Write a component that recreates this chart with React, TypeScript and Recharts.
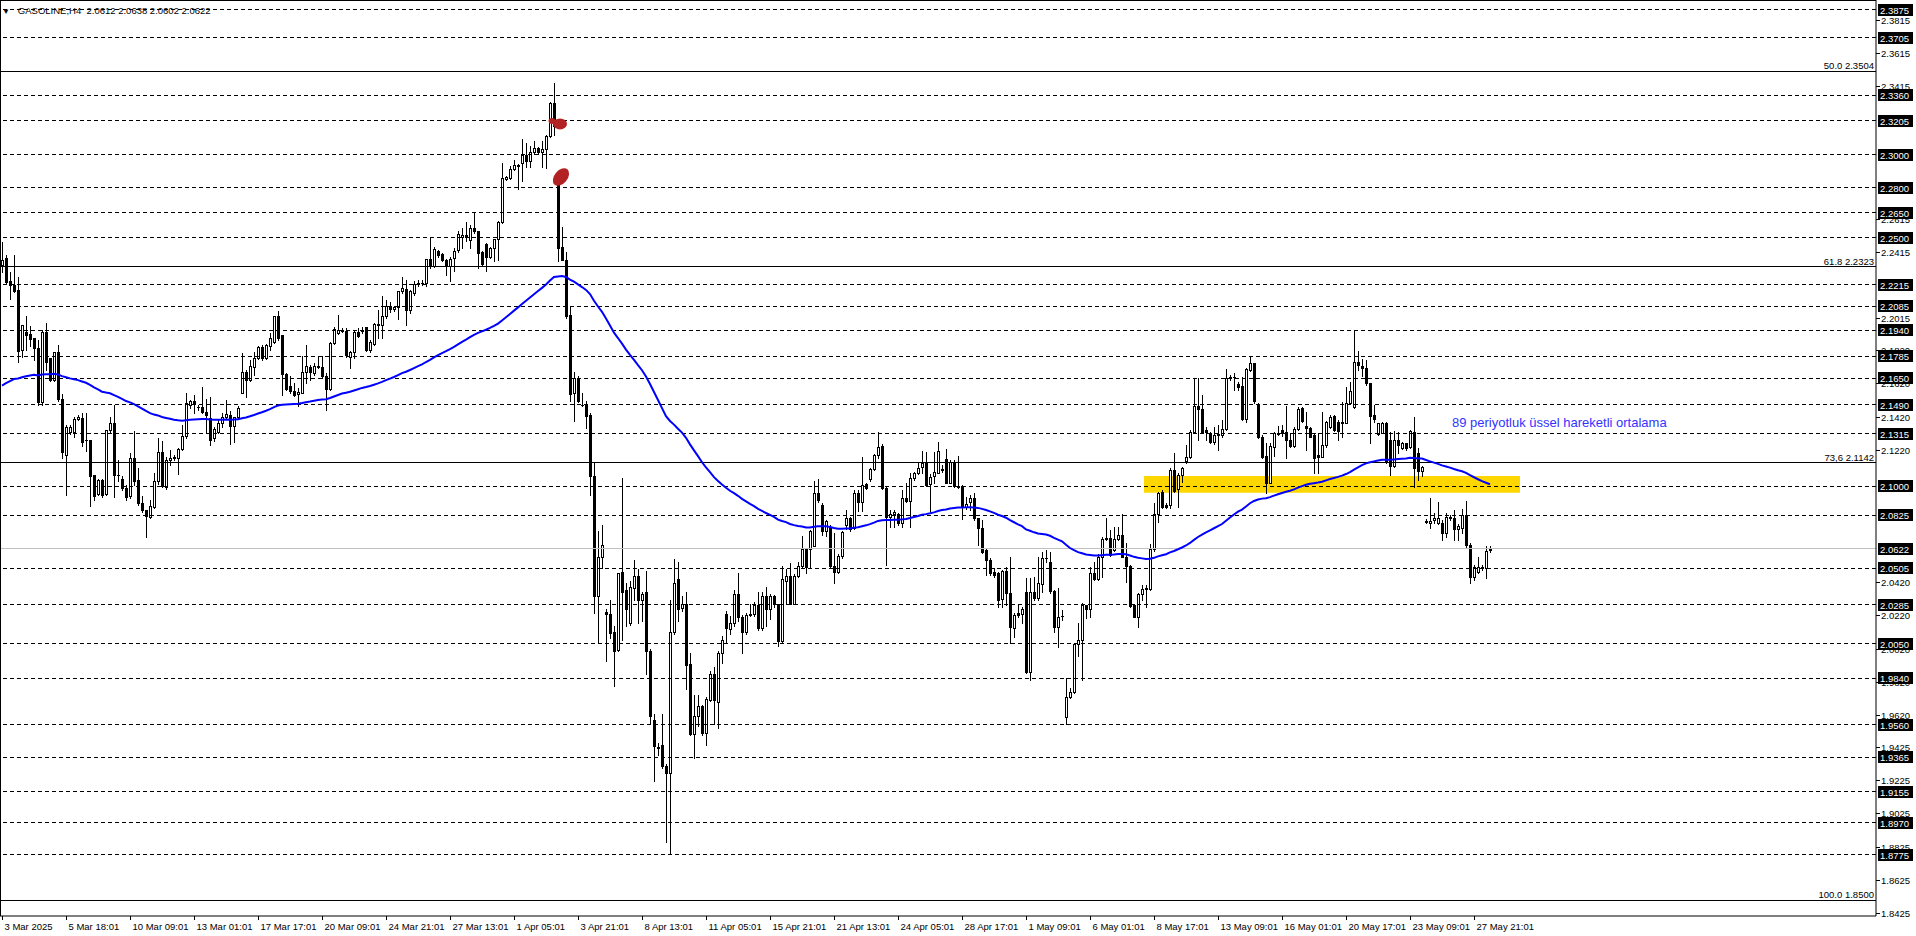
import React from 'react';
import { ComposedChart, Bar, Line, XAxis, YAxis, ReferenceLine, ReferenceArea, ReferenceDot } from 'recharts';

const FONT = "Tahoma, 'Liberation Sans', Arial, sans-serif";

// GASOLINE H4 bars, 3 Mar 2025 -> 28 May 2025
const opens = [
  2.2335, 2.2375, 2.2239, 2.2214, 2.2184, 2.1822, 2.1933, 2.1917, 2.1893, 2.1833,
  2.1507, 2.1929, 2.1772, 2.1642, 2.1808, 2.1527, 2.1189, 2.1326, 2.1326, 2.1406,
  2.1410, 2.1280, 2.1280, 2.1067, 2.0952, 2.1039, 2.0952, 2.1340, 2.1380, 2.1069,
  2.1043, 2.0988, 2.0942, 2.1169, 2.1039, 2.0898, 2.0854, 2.0814, 2.0874, 2.1029,
  2.1206, 2.0998, 2.1159, 2.1169, 2.1169, 2.1224, 2.1304, 2.1491, 2.1511, 2.1475,
  2.1475, 2.1445, 2.1410, 2.1290, 2.1326, 2.1380, 2.1420, 2.1430, 2.1366, 2.1416,
  2.1565, 2.1692, 2.1642, 2.1718, 2.1772, 2.1839, 2.1772, 2.1843, 2.1873, 2.2027,
  2.1913, 2.1678, 2.1605, 2.1577, 2.1555, 2.1565, 2.1686, 2.1722, 2.1682, 2.1726,
  2.1718, 2.1666, 2.1585, 2.1863, 2.1923, 2.1943, 2.1937, 2.1782, 2.1812, 2.1933,
  2.1943, 2.1959, 2.1822, 2.1859, 2.1977, 2.1970, 2.2028, 2.2085, 2.2069, 2.2081,
  2.2179, 2.2189, 2.2064, 2.2165, 2.2219, 2.2225, 2.2225, 2.2370, 2.2326, 2.2420,
  2.2400, 2.2366, 2.2326, 2.2376, 2.2426, 2.2503, 2.2513, 2.2487, 2.2561, 2.2537,
  2.2416, 2.2462, 2.2382, 2.2440, 2.2491, 2.2593, 2.2854, 2.2858, 2.2913, 2.2939,
  2.2953, 2.2999, 2.2965, 2.3015, 2.3039, 2.3019, 2.3033, 2.3114, 2.3311, 2.2858,
  2.2442, 2.2366, 2.2034, 2.1562, 2.1652, 2.1492, 2.1490, 2.1427, 2.1059, 2.0337,
  2.0570, 2.0240, 2.0228, 2.0121, 2.0012, 2.0484, 2.0374, 2.0172, 2.0387, 2.0458,
  2.0311, 2.0362, 2.0007, 1.9589, 1.9424, 1.9437, 1.9310, 1.9267, 2.0121, 2.0438,
  2.0266, 2.0286, 1.9926, 1.9505, 1.9614, 1.9672, 1.9513, 1.9708, 1.9868, 1.9698,
  1.9994, 2.0230, 2.0139, 2.0172, 2.0349, 2.0210, 2.0121, 2.0223, 2.0230, 2.0281,
  2.0147, 2.0337, 2.0256, 2.0337, 2.0286, 2.0063, 2.0425, 2.0458, 2.0291, 2.0458,
  2.0519, 2.0621, 2.0621, 2.0641, 2.0958, 2.0889, 2.0730, 2.0755, 2.0519, 2.0484,
  2.0577, 2.0768, 2.0806, 2.0747, 2.0958, 2.0907, 2.1016, 2.1042, 2.1102, 2.1186,
  2.1244, 2.0991, 2.0813, 2.0831, 2.0830, 2.0776, 2.0927, 2.0913, 2.1048, 2.1078,
  2.1114, 2.1142, 2.1013, 2.1064, 2.1082, 2.1102, 2.1162, 2.1021, 2.1148, 2.1001,
  2.1001, 2.0873, 2.0907, 2.0927, 2.0806, 2.0746, 2.0615, 2.0555, 2.0484, 2.0474,
  2.0317, 2.0488, 2.0354, 2.0142, 2.0233, 2.0229, 2.0364, 1.9881, 2.0364, 2.0323,
  2.0410, 2.0565, 2.0545, 2.0370, 2.0148, 2.0217, 1.9605, 1.9730, 1.9760, 2.0048,
  2.0072, 2.0283, 2.0257, 2.0478, 2.0438, 2.0575, 2.0679, 2.0686, 2.0615, 2.0679,
  2.0706, 2.0575, 2.0519, 2.0283, 2.0213, 2.0350, 2.0378, 2.0378, 2.0619, 2.0830,
  2.0963, 2.0887, 2.0887, 2.1098, 2.0981, 2.1068, 2.1154, 2.1174, 2.1329, 2.1484,
  2.1464, 2.1339, 2.1323, 2.1269, 2.1309, 2.1309, 2.1343, 2.1651, 2.1657, 2.1617,
  2.1605, 2.1404, 2.1702, 2.1742, 2.1497, 2.1299, 2.1183, 2.1022, 2.1239, 2.1323,
  2.1339, 2.1329, 2.1279, 2.1243, 2.1343, 2.1470, 2.1364, 2.1354, 2.1309, 2.1188,
  2.1178, 2.1249, 2.1356, 2.1424, 2.1390, 2.1390, 2.1384, 2.1504, 2.1476, 2.1752,
  2.1726, 2.1712, 2.1621, 2.1430, 2.1315, 2.1323, 2.1384, 2.1279, 2.1122, 2.1279,
  2.1229, 2.1259, 2.1235, 2.1329, 2.1199, 2.1094, 2.0790, 2.0776, 2.0796, 2.0780,
  2.0780, 2.0720, 2.0816, 2.0806, 2.0740, 2.0746, 2.0827, 2.0645, 2.0454, 2.0485,
  2.0505, 2.0505, 2.0612,
];

const highs = [
  2.2476, 2.2395, 2.2295, 2.2395, 2.2261, 2.1973, 2.2027, 2.1967, 2.1893, 2.1883,
  2.1943, 2.1983, 2.1772, 2.1808, 2.1849, 2.1557, 2.1370, 2.1370, 2.1420, 2.1430,
  2.1441, 2.1441, 2.1280, 2.1067, 2.1045, 2.1043, 2.1340, 2.1420, 2.1491, 2.1159,
  2.1063, 2.1009, 2.1199, 2.1330, 2.1109, 2.0938, 2.0858, 2.0918, 2.1079, 2.1290,
  2.1270, 2.1179, 2.1220, 2.1189, 2.1230, 2.1370, 2.1565, 2.1521, 2.1551, 2.1491,
  2.1601, 2.1525, 2.1541, 2.1360, 2.1400, 2.1441, 2.1521, 2.1451, 2.1420, 2.1481,
  2.1802, 2.1702, 2.1762, 2.1812, 2.1843, 2.1849, 2.1859, 2.1923, 2.2027, 2.2058,
  2.1913, 2.1682, 2.1662, 2.1625, 2.1591, 2.1786, 2.1853, 2.1732, 2.1742, 2.1782,
  2.1786, 2.1682, 2.1873, 2.1963, 2.2034, 2.1953, 2.1953, 2.1816, 2.1943, 2.1953,
  2.1963, 2.1963, 2.1883, 2.1983, 2.2064, 2.2145, 2.2125, 2.2109, 2.2090, 2.2179,
  2.2262, 2.2245, 2.2185, 2.2239, 2.2245, 2.2245, 2.2370, 2.2501, 2.2442, 2.2426,
  2.2406, 2.2370, 2.2386, 2.2436, 2.2537, 2.2557, 2.2597, 2.2577, 2.2653, 2.2537,
  2.2422, 2.2467, 2.2446, 2.2491, 2.2603, 2.2953, 2.2872, 2.2933, 2.2969, 2.2945,
  2.3094, 2.3069, 2.3053, 2.3084, 2.3049, 2.3086, 2.3120, 2.3321, 2.3431, 2.2878,
  2.2567, 2.2416, 2.2081, 2.1686, 2.1662, 2.1560, 2.1516, 2.1440, 2.1148, 2.0730,
  2.0763, 2.0260, 2.0311, 2.0159, 2.0476, 2.1052, 2.0413, 2.0425, 2.0552, 2.0501,
  2.0362, 2.0489, 2.0020, 1.9627, 1.9449, 1.9627, 1.9323, 2.0311, 2.0560, 2.0545,
  2.0337, 2.0362, 1.9994, 1.9741, 1.9741, 1.9682, 1.9728, 1.9885, 1.9906, 2.0007,
  2.0096, 2.0248, 2.0215, 2.0375, 2.0476, 2.0223, 2.0235, 2.0286, 2.0299, 2.0362,
  2.0362, 2.0392, 2.0349, 2.0342, 2.0291, 2.0519, 2.0501, 2.0534, 2.0468, 2.0545,
  2.0697, 2.0628, 2.0737, 2.1034, 2.1042, 2.0900, 2.0798, 2.0768, 2.0717, 2.0590,
  2.0730, 2.0856, 2.0813, 2.0976, 2.0976, 2.1178, 2.1021, 2.1110, 2.1193, 2.1325,
  2.1254, 2.0996, 2.0856, 2.0856, 2.0840, 2.0977, 2.1017, 2.1078, 2.1088, 2.1138,
  2.1215, 2.1208, 2.1074, 2.1208, 2.1269, 2.1128, 2.1223, 2.1158, 2.1158, 2.1182,
  2.1007, 2.0937, 2.0947, 2.0957, 2.0806, 2.0796, 2.0619, 2.0565, 2.0504, 2.0484,
  2.0494, 2.0510, 2.0571, 2.0233, 2.0289, 2.0273, 2.0444, 2.0444, 2.0454, 2.0575,
  2.0605, 2.0615, 2.0605, 2.0374, 2.0384, 2.0253, 1.9841, 1.9780, 2.0052, 2.0173,
  2.0297, 2.0283, 2.0511, 2.0545, 2.0591, 2.0695, 2.0806, 2.0736, 2.0756, 2.0756,
  2.0832, 2.0655, 2.0525, 2.0289, 2.0354, 2.0404, 2.0404, 2.0651, 2.0897, 2.0967,
  2.0977, 2.0901, 2.1108, 2.1203, 2.1078, 2.1118, 2.1249, 2.1339, 2.1650, 2.1651,
  2.1551, 2.1360, 2.1329, 2.1360, 2.1370, 2.1400, 2.1706, 2.1671, 2.1681, 2.1631,
  2.1657, 2.1712, 2.1786, 2.1746, 2.1504, 2.1309, 2.1259, 2.1263, 2.1329, 2.1364,
  2.1370, 2.1484, 2.1319, 2.1360, 2.1480, 2.1476, 2.1450, 2.1360, 2.1319, 2.1319,
  2.1450, 2.1396, 2.1430, 2.1430, 2.1400, 2.1510, 2.1597, 2.1631, 2.1939, 2.1818,
  2.1766, 2.1762, 2.1625, 2.1490, 2.1384, 2.1390, 2.1390, 2.1329, 2.1335, 2.1329,
  2.1269, 2.1263, 2.1339, 2.1416, 2.1229, 2.1122, 2.0800, 2.0927, 2.0837, 2.0907,
  2.0796, 2.0840, 2.0826, 2.0857, 2.0772, 2.0861, 2.0913, 2.0659, 2.0525, 2.0575,
  2.0525, 2.0639, 2.0638,
];

const lows = [
  2.2295, 2.2225, 2.2128, 2.2174, 2.1752, 2.1782, 2.1822, 2.1843, 2.1762, 2.1491,
  2.1491, 2.1702, 2.1632, 2.1632, 2.1511, 2.1169, 2.0948, 2.1316, 2.1296, 2.1400,
  2.1240, 2.1210, 2.0878, 2.0918, 2.0945, 2.0932, 2.0948, 2.1320, 2.0932, 2.1029,
  2.0978, 2.0918, 2.0928, 2.1009, 2.0888, 2.0844, 2.0693, 2.0807, 2.0868, 2.1015,
  2.0998, 2.0982, 2.1129, 2.1159, 2.1073, 2.1220, 2.1290, 2.1471, 2.1441, 2.1461,
  2.1441, 2.1320, 2.1246, 2.1270, 2.1320, 2.1360, 2.1410, 2.1256, 2.1264, 2.1410,
  2.1561, 2.1541, 2.1632, 2.1672, 2.1766, 2.1762, 2.1766, 2.1822, 2.1863, 2.1883,
  2.1551, 2.1581, 2.1561, 2.1547, 2.1481, 2.1561, 2.1625, 2.1642, 2.1672, 2.1712,
  2.1652, 2.1457, 2.1581, 2.1859, 2.1919, 2.1929, 2.1782, 2.1712, 2.1772, 2.1903,
  2.1923, 2.1818, 2.1812, 2.1853, 2.1894, 2.1894, 2.2014, 2.2054, 2.2060, 2.2008,
  2.2165, 2.1974, 2.2044, 2.2155, 2.2205, 2.2215, 2.2211, 2.2316, 2.2322, 2.2386,
  2.2356, 2.2276, 2.2241, 2.2296, 2.2416, 2.2436, 2.2477, 2.2436, 2.2527, 2.2316,
  2.2336, 2.2296, 2.2376, 2.2356, 2.2362, 2.2587, 2.2848, 2.2852, 2.2909, 2.2792,
  2.2844, 2.2929, 2.2929, 2.3005, 2.3009, 2.2929, 2.2919, 2.3106, 2.3120, 2.2356,
  2.2362, 2.2014, 2.1512, 2.1391, 2.1506, 2.1482, 2.1351, 2.0945, 2.0235, 2.0058,
  2.0509, 1.9944, 2.0083, 1.9792, 2.0007, 2.0070, 2.0159, 2.0164, 2.0311, 2.0172,
  2.0184, 1.9868, 1.9563, 1.9221, 1.9380, 1.9297, 1.8853, 1.8785, 2.0108, 2.0185,
  2.0248, 1.9774, 1.9500, 1.9361, 1.9551, 1.9500, 1.9437, 1.9703, 1.9563, 1.9538,
  1.9931, 2.0058, 2.0108, 2.0159, 2.0185, 1.9994, 2.0108, 2.0215, 2.0215, 2.0134,
  2.0134, 2.0159, 2.0197, 2.0273, 2.0033, 2.0058, 2.0291, 2.0286, 2.0286, 2.0451,
  2.0509, 2.0476, 2.0509, 2.0636, 2.0907, 2.0704, 2.0697, 2.0509, 2.0413, 2.0476,
  2.0565, 2.0742, 2.0730, 2.0742, 2.0849, 2.0849, 2.0984, 2.1034, 2.1097, 2.1173,
  2.0984, 2.0527, 2.0755, 2.0755, 2.0766, 2.0756, 2.0907, 2.0756, 2.1038, 2.1074,
  2.1078, 2.1001, 2.0852, 2.1017, 2.1078, 2.1088, 2.1017, 2.1017, 2.0997, 2.0987,
  2.0800, 2.0861, 2.0857, 2.0796, 2.0645, 2.0599, 2.0464, 2.0464, 2.0454, 2.0273,
  2.0273, 2.0283, 2.0052, 2.0092, 2.0209, 2.0177, 1.9871, 1.9831, 2.0313, 2.0313,
  2.0364, 2.0545, 2.0354, 2.0122, 2.0032, 2.0193, 1.9565, 1.9720, 1.9754, 1.9975,
  1.9831, 2.0203, 2.0209, 2.0434, 2.0434, 2.0454, 2.0675, 2.0579, 2.0611, 2.0675,
  2.0571, 2.0424, 2.0273, 2.0209, 2.0152, 2.0313, 2.0269, 2.0374, 2.0611, 2.0786,
  2.0867, 2.0867, 2.0867, 2.0967, 2.0877, 2.1027, 2.1138, 2.1168, 2.1320, 2.1279,
  2.1319, 2.1279, 2.1259, 2.1255, 2.1219, 2.1299, 2.1339, 2.1641, 2.1581, 2.1581,
  2.1400, 2.1390, 2.1698, 2.1504, 2.1289, 2.1168, 2.0957, 2.1018, 2.1183, 2.1309,
  2.1303, 2.1168, 2.1239, 2.1239, 2.1339, 2.1390, 2.1219, 2.1295, 2.1078, 2.1078,
  2.1174, 2.1239, 2.1350, 2.1335, 2.1279, 2.1299, 2.1380, 2.1497, 2.1470, 2.1702,
  2.1665, 2.1611, 2.1263, 2.1390, 2.1309, 2.1319, 2.1138, 2.1068, 2.1118, 2.1198,
  2.1223, 2.1219, 2.1229, 2.0997, 2.1038, 2.1062, 2.0780, 2.0746, 2.0776, 2.0772,
  2.0676, 2.0692, 2.0796, 2.0676, 2.0676, 2.0720, 2.0635, 2.0418, 2.0434, 2.0475,
  2.0495, 2.0444, 2.0602,
];

const closes = [
  2.2365, 2.2235, 2.2214, 2.2180, 2.1818, 2.1973, 2.1913, 2.1887, 2.1833, 2.1507,
  2.1929, 2.1752, 2.1642, 2.1808, 2.1527, 2.1209, 2.1356, 2.1356, 2.1406, 2.1416,
  2.1264, 2.1280, 2.1063, 2.0942, 2.1039, 2.0948, 2.1340, 2.1380, 2.1069, 2.1069,
  2.0988, 2.0932, 2.1169, 2.1029, 2.0898, 2.0854, 2.0822, 2.0878, 2.1029, 2.1206,
  2.1004, 2.1159, 2.1169, 2.1179, 2.1226, 2.1304, 2.1501, 2.1511, 2.1501, 2.1479,
  2.1445, 2.1431, 2.1280, 2.1344, 2.1380, 2.1416, 2.1434, 2.1366, 2.1416, 2.1471,
  2.1692, 2.1642, 2.1728, 2.1772, 2.1839, 2.1772, 2.1853, 2.1893, 2.2027, 2.1893,
  2.1678, 2.1585, 2.1577, 2.1551, 2.1571, 2.1686, 2.1726, 2.1686, 2.1726, 2.1718,
  2.1662, 2.1587, 2.1867, 2.1947, 2.1943, 2.1939, 2.1792, 2.1812, 2.1933, 2.1907,
  2.1937, 2.1822, 2.1873, 2.1979, 2.1970, 2.2028, 2.2085, 2.2069, 2.2081, 2.2179,
  2.2193, 2.2064, 2.2175, 2.2219, 2.2225, 2.2225, 2.2370, 2.2326, 2.2430, 2.2396,
  2.2366, 2.2326, 2.2372, 2.2422, 2.2521, 2.2513, 2.2501, 2.2561, 2.2541, 2.2410,
  2.2340, 2.2386, 2.2436, 2.2491, 2.2593, 2.2858, 2.2868, 2.2913, 2.2939, 2.2935,
  2.2999, 2.2965, 2.3019, 2.3039, 2.3019, 2.3033, 2.3114, 2.3311, 2.3174, 2.2436,
  2.2366, 2.2024, 2.1558, 2.1652, 2.1512, 2.1490, 2.1422, 2.1059, 2.0337, 2.0570,
  2.0646, 2.0230, 2.0114, 2.0007, 2.0476, 2.0362, 2.0256, 2.0392, 2.0458, 2.0311,
  2.0349, 2.0007, 1.9614, 1.9429, 1.9418, 1.9310, 1.9267, 2.0121, 2.0413, 2.0261,
  2.0286, 1.9918, 1.9505, 1.9614, 1.9672, 1.9513, 1.9715, 1.9868, 1.9708, 1.9994,
  2.0070, 2.0147, 2.0172, 2.0349, 2.0210, 2.0121, 2.0223, 2.0228, 2.0281, 2.0147,
  2.0337, 2.0256, 2.0337, 2.0286, 2.0063, 2.0438, 2.0458, 2.0291, 2.0458, 2.0519,
  2.0621, 2.0514, 2.0730, 2.0958, 2.0915, 2.0730, 2.0788, 2.0519, 2.0484, 2.0577,
  2.0722, 2.0806, 2.0742, 2.0958, 2.0907, 2.1009, 2.0991, 2.1102, 2.1186, 2.1237,
  2.0991, 2.0813, 2.0831, 2.0844, 2.0776, 2.0927, 2.0913, 2.1048, 2.1078, 2.1108,
  2.1142, 2.1007, 2.1058, 2.1088, 2.1213, 2.1096, 2.1021, 2.1148, 2.1001, 2.0997,
  2.0873, 2.0891, 2.0927, 2.0806, 2.0746, 2.0605, 2.0555, 2.0474, 2.0464, 2.0313,
  2.0488, 2.0354, 2.0148, 2.0223, 2.0223, 2.0257, 1.9881, 2.0364, 2.0323, 2.0414,
  2.0565, 2.0565, 2.0370, 2.0148, 2.0209, 2.0217, 1.9726, 1.9760, 2.0048, 2.0072,
  2.0283, 2.0257, 2.0478, 2.0438, 2.0575, 2.0679, 2.0686, 2.0585, 2.0679, 2.0706,
  2.0575, 2.0519, 2.0277, 2.0213, 2.0350, 2.0378, 2.0384, 2.0619, 2.0830, 2.0957,
  2.0877, 2.0873, 2.1098, 2.0973, 2.1068, 2.1108, 2.1174, 2.1329, 2.1484, 2.1464,
  2.1323, 2.1329, 2.1269, 2.1309, 2.1315, 2.1343, 2.1651, 2.1657, 2.1661, 2.1601,
  2.1404, 2.1706, 2.1746, 2.1511, 2.1295, 2.1174, 2.1018, 2.1243, 2.1323, 2.1315,
  2.1323, 2.1279, 2.1243, 2.1343, 2.1464, 2.1396, 2.1350, 2.1299, 2.1168, 2.1178,
  2.1249, 2.1390, 2.1420, 2.1339, 2.1335, 2.1384, 2.1504, 2.1577, 2.1752, 2.1732,
  2.1712, 2.1621, 2.1424, 2.1404, 2.1380, 2.1384, 2.1148, 2.1122, 2.1279, 2.1249,
  2.1259, 2.1229, 2.1335, 2.1108, 2.1094, 2.1114, 2.0786, 2.0792, 2.0806, 2.0806,
  2.0720, 2.0816, 2.0806, 2.0740, 2.0760, 2.0827, 2.0645, 2.0454, 2.0515, 2.0515,
  2.0515, 2.0611, 2.0622,
];

// 89-period EMA of the closes; value before the first visible bar
const emaPeriod = 89;
const emaSeed = 2.1590;

const timeLabels = [
  '3 Mar 2025', '5 Mar 18:01', '10 Mar 09:01', '13 Mar 01:01', '17 Mar 17:01', '20 Mar 09:01',
  '24 Mar 21:01', '27 Mar 13:01', '1 Apr 05:01', '3 Apr 21:01', '8 Apr 13:01', '11 Apr 05:01',
  '15 Apr 21:01', '21 Apr 13:01', '24 Apr 05:01', '28 Apr 17:01', '1 May 09:01', '6 May 01:01',
  '8 May 17:01', '13 May 09:01', '16 May 01:01', '20 May 17:01', '23 May 09:01', '27 May 21:01',
];
const timeLabelBars = [
  0, 16, 32, 48, 64, 80, 96, 112, 128, 144, 160, 176,
  192, 208, 224, 240, 256, 272, 288, 304, 320, 336, 352, 368,
];

// empty bar slots on the right side of the window
const windowBars = 469;

// horizontal levels drawn on the chart
const levelLines = [
  2.3875, 2.3705, 2.3360, 2.3205, 2.3000, 2.2800, 2.2650, 2.2500, 2.2215, 2.2085,
  2.1940, 2.1785, 2.1650, 2.1490, 2.1315, 2.1000, 2.0825, 2.0505, 2.0285, 2.0050,
  1.9840, 1.9560, 1.9365, 1.9155, 1.8970, 1.8775,
];
const lastPrice = 2.0622;
const fibLevels = [
  { text: '50.0 2.3504', price: 2.3504 },
  { text: '61.8 2.2323', price: 2.2323 },
  { text: '73,6 2.1142', price: 2.1142 },
  { text: '100.0 1.8500', price: 1.8500 },
];
const scaleLabels = [
  2.3815, 2.3615, 2.3415, 2.2615, 2.2415, 2.2015, 2.1820, 2.1620, 2.1420, 2.1220,
  2.0420, 2.0220, 2.0020, 1.9820, 1.9620, 1.9425, 1.9225, 1.9025, 1.8825, 1.8625, 1.8425,
];

const zone = { fromBar: 286, toBar: 379, low: 2.0961, high: 2.1062 };
const markers = [
  { bar: 139, price: 2.3192 },
  { bar: 140, price: 2.2866 },
];
const emaNote = { bar: 363, price: 2.1360, text: '89 periyotluk üssel hareketli ortalama' };

const yMin = 1.8406;
const yMax = 2.3934;

const alpha = 2 / (emaPeriod + 1);
let emaRun = emaSeed;
const rows = Array.from({ length: windowBars }, (_, i) => {
  if (i >= closes.length) return { i };
  emaRun = emaRun + alpha * (closes[i] - emaRun);
  return { i, o: opens[i], h: highs[i], l: lows[i], c: closes[i], range: [lows[i], highs[i]], ema: emaRun };
});

const boxedPrices = [...levelLines, lastPrice];
const priceTicks = [...scaleLabels, ...boxedPrices];

function Candle(props: any) {
  const { x, y, width, height, payload } = props;
  if (!payload || payload.o == null || !isFinite(y) || !isFinite(height)) return null;
  const { o, h, l, c } = payload;
  const top0 = Math.min(y, y + height);
  const hgt = Math.abs(height);
  const span = h - l;
  const py = (p: number) => (span > 0 ? top0 + ((h - p) / span) * hgt : top0);
  const col = Math.round(x + width / 2) - 2;
  const top = Math.round(py(h));
  const bot = Math.round(py(l));
  const bTop = Math.round(py(Math.max(o, c)));
  const bBot = Math.round(py(Math.min(o, c)));
  const wick = <rect x={col + 1} y={top} width={1} height={Math.max(1, bot - top + 1)} fill="#000" />;
  let body;
  if (bBot - bTop < 1) {
    body = <rect x={col} y={bTop} width={3} height={1} fill="#000" />;
  } else if (c >= o) {
    body = <rect x={col + 0.5} y={bTop + 0.5} width={2} height={bBot - bTop} fill="#fff" stroke="#000" strokeWidth={1} />;
  } else {
    body = <rect x={col} y={bTop} width={3} height={bBot - bTop + 1} fill="#000" />;
  }
  return (
    <g shapeRendering="crispEdges">
      {wick}
      {body}
    </g>
  );
}

function PriceTick(props: any) {
  const { x, y, payload } = props;
  const v = payload.value as number;
  const yy = Math.round(y);
  if (boxedPrices.includes(v)) {
    return (
      <g>
        <rect x={x + 2} y={yy - 6} width={35} height={12} fill="#000" />
        <text x={x + 4} y={yy + 4} fill="#fff" fontSize={9.5} fontFamily={FONT}>{v.toFixed(4)}</text>
      </g>
    );
  }
  return (
    <g>
      <line x1={x} x2={x + 4} y1={yy + 0.5} y2={yy + 0.5} stroke="#000" />
      <text x={x + 5} y={yy + 4} fill="#000" fontSize={9.5} fontFamily={FONT}>{v.toFixed(4)}</text>
    </g>
  );
}

function TimeTick(props: any) {
  const { x, y, payload } = props;
  const k = timeLabelBars.indexOf(payload.value);
  if (k < 0) return null;
  const xx = Math.round(x) + 0.5;
  return (
    <g>
      <line x1={xx} x2={xx} y1={y} y2={y + 4} stroke="#000" />
      <text x={xx + 2} y={y + 14} fill="#000" fontSize={9.5} fontFamily={FONT}>{timeLabels[k]}</text>
    </g>
  );
}

function RedBlob(props: any) {
  const { cx, cy, index } = props;
  if (index === 1) {
    return <ellipse cx={cx - 1} cy={cy} rx={10} ry={6.5} fill="#b22222" transform={`rotate(-50 ${cx - 1} ${cy})`} />;
  }
  return (
    <g fill="#b22222">
      <ellipse cx={cx + 2} cy={cy + 1} rx={7} ry={5.5} />
      <ellipse cx={cx - 6} cy={cy - 2} rx={3.5} ry={3} />
    </g>
  );
}

export default function App() {
  return (
    <div style={{ position: 'absolute', left: 0, top: 0, width: 1916, height: 936, background: '#fff', overflow: 'hidden' }}>
      <ComposedChart width={1916} height={936} data={rows} margin={{ top: 0, right: 0, bottom: 0, left: 0 }}>
        <XAxis
          dataKey="i"
          type="category"
          height={20}
          interval={0}
          tickLine={false}
          tickSize={0}
          tickMargin={0}
          axisLine={{ stroke: '#000' }}
          tick={(p: any) => <TimeTick {...p} />}
        />
        <YAxis
          orientation="right"
          type="number"
          width={40}
          domain={[yMin, yMax]}
          allowDataOverflow
          ticks={priceTicks}
          interval={0}
          tickLine={false}
          tickSize={0}
          tickMargin={0}
          axisLine={{ stroke: '#000' }}
          tick={(p: any) => <PriceTick {...p} />}
        />
        <ReferenceArea x1={zone.fromBar} x2={zone.toBar} y1={zone.low} y2={zone.high} fill="#ffd700" fillOpacity={1} stroke="none" />
        {levelLines.map((p) => (
          <ReferenceLine key={p} y={p} stroke="#000" strokeDasharray="4 3" shapeRendering="crispEdges" />
        ))}
        <ReferenceLine y={lastPrice} stroke="#c0c0c0" shapeRendering="crispEdges" />
        {fibLevels.map((f) => (
          <ReferenceLine
            key={f.text}
            y={f.price}
            stroke="#000"
            shapeRendering="crispEdges"
            label={{ value: f.text, position: 'insideBottomRight', offset: 2, fill: '#000', fontSize: 9.5, fontFamily: FONT }}
          />
        ))}
        <Bar dataKey="range" barSize={3} isAnimationActive={false} shape={(p: any) => <Candle {...p} />} />
        <Line dataKey="ema" type="linear" stroke="#0000ff" strokeWidth={2} dot={false} activeDot={false} isAnimationActive={false} />
        {markers.map((m, k) => (
          <ReferenceDot key={k} x={m.bar} y={m.price} r={8} shape={(p: any) => <RedBlob {...p} index={k} />} />
        ))}
        <ReferenceDot
          x={emaNote.bar}
          y={emaNote.price}
          r={1}
          shape={(p: any) => (
            <text x={p.cx - 2} y={p.cy} fill="#3333ff" fontSize={13} fontFamily="'Liberation Sans', Arial, sans-serif">
              {emaNote.text}
            </text>
          )}
        />
      </ComposedChart>
      <div style={{ position: 'absolute', left: 0, top: 0, width: 1, height: 916, background: '#000' }} />
      <div style={{ position: 'absolute', left: 0, top: 0, width: 1876, height: 1, background: '#000' }} />
      <div style={{ position: 'absolute', left: 2, top: 5, fontFamily: FONT, fontSize: 9.5, lineHeight: '11px', whiteSpace: 'pre', color: '#000' }}>
        <span style={{ fontSize: 8 }}>▼</span>{'   GASOLINE,H4  2.0612 2.0638 2.0602 2.0622'}
      </div>
    </div>
  );
}
